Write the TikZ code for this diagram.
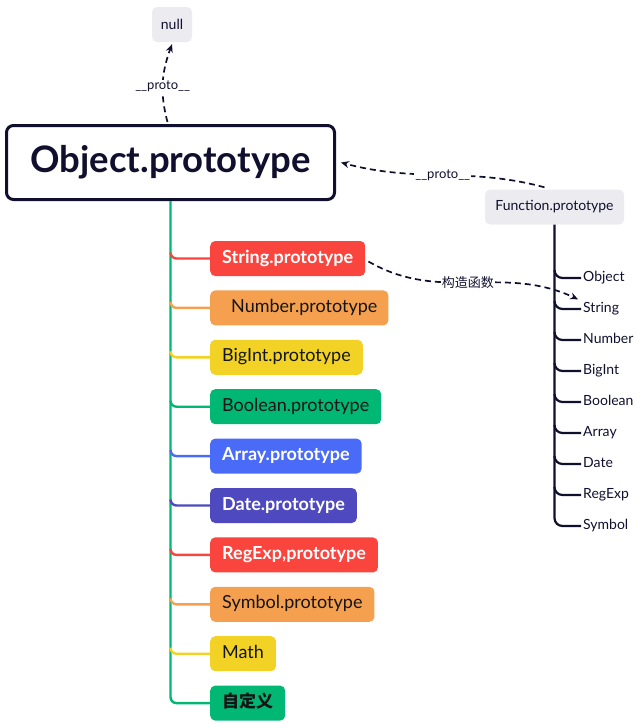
\documentclass[tikz,border=0pt]{standalone}
\usepackage{fontspec}
\setmainfont{Lato}
\newfontfamily\cjk{Noto Sans CJK SC}
\usetikzlibrary{positioning,arrows.meta}

\definecolor{navy}{HTML}{10102E}
\definecolor{softgray}{HTML}{ECEBEF}
\definecolor{cred}{HTML}{F9453E}
\definecolor{corange}{HTML}{F5A04E}
\definecolor{cyellow}{HTML}{F2D325}
\definecolor{cgreen}{HTML}{00B874}
\definecolor{cblue}{HTML}{4A6BF7}
\definecolor{cindigo}{HTML}{4E49BF}
\definecolor{ctext}{HTML}{151515}

\begin{document}
\begin{tikzpicture}[x=1pt,y=1pt,
objbox/.style={draw=navy, fill=white, line width=3pt, rounded corners=7pt, minimum width=328pt, minimum height=74pt, text=navy, font=\fontsize{36.5}{40}\selectfont\bfseries},
graybox/.style={fill=softgray, rounded corners=5pt, minimum height=35pt, text=navy, font=\fontsize{14}{16}\selectfont},
proto/.style={rounded corners=5pt, minimum height=35pt, inner xsep=12pt, text height=13pt, text depth=4pt, font=\fontsize{18}{21}\selectfont},
protow/.style={proto, text=white, font=\fontsize{18}{21}\selectfont\bfseries},
fnlabel/.style={inner sep=2pt, text height=10pt, text depth=3pt, text=navy, font=\fontsize{14}{16}\selectfont},
branch/.style={line width=2.4pt, rounded corners=6pt},
fnline/.style={draw=navy, line width=2.2pt, rounded corners=8pt},
link/.style={draw=navy, line width=1.7pt, dash pattern=on 6pt off 4pt, -{Stealth[length=8pt,width=7pt]}},
linklabel/.style={fill=white, inner sep=1pt, text=navy, font=\fontsize{13}{15}\selectfont}
]
\useasboundingbox (0,0) rectangle (636,-724);

% top of the chain
\node[objbox](obj_proto) at (170.5,-162.5){Object.prototype};
\node[graybox, minimum width=40pt](null_node) at (172,-24.5){null};
\node[graybox, minimum width=139pt](fn_proto) at (554.5,-207){Function.prototype};

% built-in prototypes
\node[protow, fill=cred, anchor=west](str_proto) at (210,-258.5){String.prototype};
\node[proto, fill=corange, text=ctext, inner xsep=11pt](num_proto)[below=14pt of str_proto.south west, anchor=north west]{\hspace{10pt}Number.prototype};
\node[proto, fill=cyellow, text=ctext](bigint_proto)[below=14pt of num_proto.south west, anchor=north west]{BigInt.prototype};
\node[proto, fill=cgreen, text=ctext](bool_proto)[below=14pt of bigint_proto.south west, anchor=north west]{Boolean.prototype};
\node[protow, fill=cblue](arr_proto)[below=14pt of bool_proto.south west, anchor=north west]{Array.prototype};
\node[protow, fill=cindigo](date_proto)[below=14pt of arr_proto.south west, anchor=north west]{Date.prototype};
\node[protow, fill=cred](re_proto)[below=14pt of date_proto.south west, anchor=north west]{RegExp,prototype};
\node[proto, fill=corange, text=ctext](sym_proto)[below=14pt of re_proto.south west, anchor=north west]{Symbol.prototype};
\node[proto, fill=cyellow, text=ctext](math_node)[below=14pt of sym_proto.south west, anchor=north west]{Math};
\node[proto, fill=cgreen, text=ctext](custom_node)[below=14pt of math_node.south west, anchor=north west]{\cjk\bfseries\fontsize{17}{20}\selectfont 自定义};

% constructors
\node[fnlabel, anchor=west](fn_object) at (581,-278){Object};
\node[fnlabel](fn_string)[below=31pt of fn_object.west, anchor=west]{String};
\node[fnlabel](fn_number)[below=31pt of fn_string.west, anchor=west]{Number};
\node[fnlabel](fn_bigint)[below=31pt of fn_number.west, anchor=west]{BigInt};
\node[fnlabel](fn_boolean)[below=31pt of fn_bigint.west, anchor=west]{Boolean};
\node[fnlabel](fn_array)[below=31pt of fn_boolean.west, anchor=west]{Array};
\node[fnlabel](fn_date)[below=31pt of fn_array.west, anchor=west]{Date};
\node[fnlabel](fn_regexp)[below=31pt of fn_date.west, anchor=west]{RegExp};
\node[fnlabel](fn_symbol)[below=31pt of fn_regexp.west, anchor=west]{Symbol};

% left tree
\draw[branch, cgreen] (obj_proto.south) |- (custom_node.west);
\draw[branch, cred] ([yshift=6pt]obj_proto.south |- str_proto.west) |- (str_proto.west);
\draw[branch, corange] ([yshift=6pt]obj_proto.south |- num_proto.west) |- (num_proto.west);
\draw[branch, cyellow] ([yshift=6pt]obj_proto.south |- bigint_proto.west) |- (bigint_proto.west);
\draw[branch, cgreen] ([yshift=6pt]obj_proto.south |- bool_proto.west) |- (bool_proto.west);
\draw[branch, cblue] ([yshift=6pt]obj_proto.south |- arr_proto.west) |- (arr_proto.west);
\draw[branch, cindigo] ([yshift=6pt]obj_proto.south |- date_proto.west) |- (date_proto.west);
\draw[branch, cred] ([yshift=6pt]obj_proto.south |- re_proto.west) |- (re_proto.west);
\draw[branch, corange] ([yshift=6pt]obj_proto.south |- sym_proto.west) |- (sym_proto.west);
\draw[branch, cyellow] ([yshift=6pt]obj_proto.south |- math_node.west) |- (math_node.west);

% right tree
\draw[fnline] (fn_proto.south) |- (fn_symbol.west);
\draw[fnline] ([yshift=8pt]fn_proto.south |- fn_object.west) |- (fn_object.west);
\draw[fnline] ([yshift=8pt]fn_proto.south |- fn_string.west) |- (fn_string.west);
\draw[fnline] ([yshift=8pt]fn_proto.south |- fn_number.west) |- (fn_number.west);
\draw[fnline] ([yshift=8pt]fn_proto.south |- fn_bigint.west) |- (fn_bigint.west);
\draw[fnline] ([yshift=8pt]fn_proto.south |- fn_boolean.west) |- (fn_boolean.west);
\draw[fnline] ([yshift=8pt]fn_proto.south |- fn_array.west) |- (fn_array.west);
\draw[fnline] ([yshift=8pt]fn_proto.south |- fn_date.west) |- (fn_date.west);
\draw[fnline] ([yshift=8pt]fn_proto.south |- fn_regexp.west) |- (fn_regexp.west);

% dashed links
\draw[link] ([xshift=-3pt,yshift=2pt]obj_proto.north) to[out=105,in=-110] node[linklabel, pos=0.45]{\_\_proto\_\_} ([yshift=-2pt]null_node.south);
\draw[link] ([xshift=-10pt,yshift=2pt]fn_proto.north) to[out=165,in=-15] node[linklabel, pos=0.5]{\_\_proto\_\_} ([xshift=5pt]obj_proto.east);
\draw[link] ([xshift=3pt,yshift=-3pt]str_proto.east) to[out=-30,in=155] node[linklabel, pos=0.48]{\cjk 构造函数} ([xshift=-3pt,yshift=1pt]fn_string.north west);
\end{tikzpicture}
\end{document}
